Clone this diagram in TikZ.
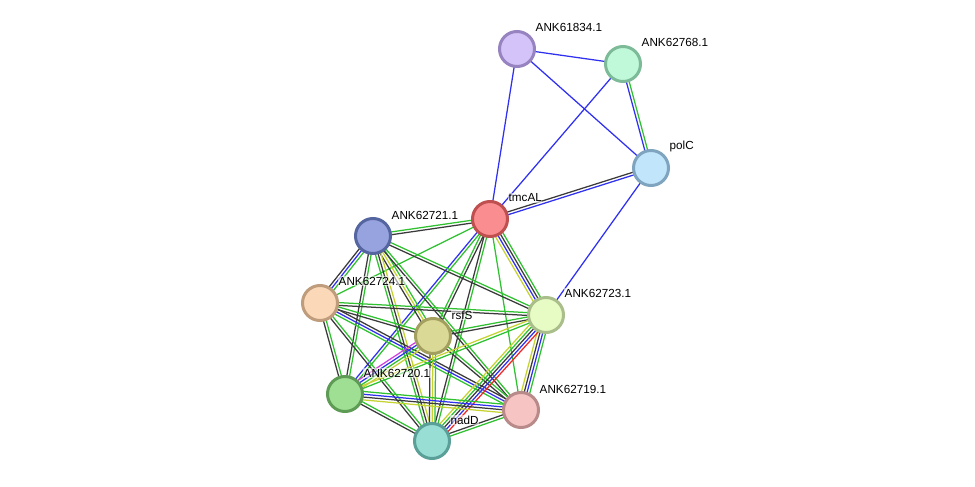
\documentclass[tikz,border=0pt]{standalone}
\usepackage{fontspec}
\setmainfont{Liberation Sans}
\usetikzlibrary{calc,backgrounds}
\definecolor{sgreen}{HTML}{2FC12F}
\definecolor{sblack}{HTML}{3A3A3A}
\definecolor{sblue}{HTML}{3030F0}
\definecolor{syellow}{HTML}{C5D330}
\definecolor{sred}{HTML}{F02525}
\definecolor{smag}{HTML}{D040E0}
\definecolor{fa}{HTML}{D3C3F8}\definecolor{da}{HTML}{9683BF}
\definecolor{fb}{HTML}{C0F8DA}\definecolor{db}{HTML}{7DBB98}
\definecolor{fp}{HTML}{C1E5FA}\definecolor{dp}{HTML}{7EA4BF}
\definecolor{ft}{HTML}{F98D8F}\definecolor{dt}{HTML}{C05050}
\definecolor{f21}{HTML}{97A3DF}\definecolor{d21}{HTML}{5565A0}
\definecolor{f24}{HTML}{FBD9B8}\definecolor{d24}{HTML}{BE9C7C}
\definecolor{fr}{HTML}{DBD996}\definecolor{dr}{HTML}{A3A05F}
\definecolor{f23}{HTML}{E6FCC4}\definecolor{d23}{HTML}{A9BE8A}
\definecolor{f20}{HTML}{9FDF93}\definecolor{d20}{HTML}{5E9C55}
\definecolor{f19}{HTML}{F7C4C4}\definecolor{d19}{HTML}{B88A8A}
\definecolor{fn}{HTML}{98DED5}\definecolor{dn}{HTML}{5A9F98}
\newcommand\sedge[4]{%
  \foreach \cc [count=\ii] in {#4}{%
    \pgfmathsetmacro\off{(\ii-(#3+1)/2)*2.8}%
    \draw[\cc,line width=1.25pt] ($(#1)!\off pt!90:(#2)$) -- ($(#2)!\off pt!-90:(#1)$);
  }}
\tikzset{
  prot/.style 2 args={circle,minimum size=35pt,inner sep=0pt,line width=3pt,fill=#1,draw=#2},
  lbl/.style={anchor=west,font=\fontsize{11.7}{13}\selectfont,inner sep=0.5pt,fill=white,fill opacity=0.55,text opacity=1}
}
\begin{document}
\begin{tikzpicture}[x=1pt,y=-1pt]
\useasboundingbox (0,0) rectangle (975,487);
\node[prot={fa}{da}] (a) at (517,49) {};
\node[prot={fb}{db}] (b) at (623,64) {};
\node[prot={fp}{dp}] (p) at (651,168) {};
\node[prot={ft}{dt}] (t) at (490,219) {};
\node[prot={f21}{d21}] (k21) at (373,236) {};
\node[prot={f24}{d24}] (k24) at (320,303) {};
\node[prot={fr}{dr}] (r) at (433,336) {};
\node[prot={f23}{d23}] (k23) at (546,315) {};
\node[prot={f20}{d20}] (k20) at (345,394) {};
\node[prot={f19}{d19}] (k19) at (521,410) {};
\node[prot={fn}{dn}] (n) at (432,441) {};
\node[lbl] (la) at ($(a)+(18,-22)$) {ANK61834.1};
\node[lbl] (lb) at ($(b)+(18,-22)$) {ANK62768.1};
\node[lbl] (lp) at ($(p)+(18,-22)$) {polC};
\node[lbl] (lt) at ($(t)+(18,-21)$) {tmcAL};
\node[lbl] (l21) at ($(k21)+(18,-21)$) {ANK62721.1};
\node[lbl] (l24) at ($(k24)+(18,-22)$) {ANK62724.1};
\node[lbl] (lr) at ($(r)+(18,-21)$) {rsfS};
\node[lbl] (l23) at ($(k23)+(18,-22)$) {ANK62723.1};
\node[lbl] (l20) at ($(k20)+(18,-21)$) {ANK62720.1};
\node[lbl] (l19) at ($(k19)+(18,-21)$) {ANK62719.1};
\node[lbl] (ln) at ($(n)+(18,-21)$) {nadD};
\begin{scope}[on background layer]
\fill[white] (0,0) rectangle (975,487);
\sedge{a}{b}{1}{sblue}
\sedge{a}{p}{1}{sblue}
\sedge{a}{t}{1}{sblue}
\sedge{b}{t}{1}{sblue}
\sedge{b}{p}{2}{sblue,sgreen}
\sedge{p}{t}{2}{sblack,sblue}
\sedge{p}{k23}{1}{sblue}
\sedge{t}{k21}{2}{sgreen,sblack}
\sedge{t}{k24}{1}{sgreen}
\sedge{t}{r}{2}{sgreen,sblack}
\sedge{t}{k23}{4}{syellow,sblue,sblack,sgreen}
\sedge{t}{k20}{2}{sblue,sgreen}
\sedge{t}{k19}{1}{sgreen}
\sedge{t}{n}{2}{sblack,sgreen}
\sedge{k21}{k24}{3}{sblack,sblue,sgreen}
\sedge{k21}{r}{3}{sblack,syellow,sgreen}
\sedge{k21}{k23}{2}{sblack,sgreen}
\sedge{k21}{k20}{2}{sblack,sgreen}
\sedge{k21}{k19}{2}{sblack,sgreen}
\sedge{k21}{n}{3}{sgreen,sblack,syellow}
\sedge{k24}{r}{2}{sblack,sgreen}
\sedge{k24}{k23}{2}{sblack,sgreen}
\sedge{k24}{k20}{2}{sblack,sgreen}
\sedge{k24}{k19}{3}{sgreen,sblue,sblack}
\sedge{k24}{n}{2}{sblack,sgreen}
\sedge{r}{k23}{2}{sblack,sgreen}
\sedge{r}{k20}{4}{smag,sblue,sgreen,syellow}
\sedge{r}{k19}{2}{sblack,sgreen}
\sedge{r}{n}{3}{sblack,syellow,sgreen}
\sedge{k23}{k20}{2}{syellow,sgreen}
\sedge{k23}{k19}{4}{syellow,sblack,sblue,sgreen}
\sedge{k23}{n}{5}{syellow,sgreen,sblack,sblue,sred}
\sedge{k20}{k19}{4}{syellow,sblack,sblue,sgreen}
\sedge{k20}{n}{2}{sblack,sgreen}
\sedge{k19}{n}{2}{sblack,sgreen}
\end{scope}
\end{tikzpicture}
\end{document}
